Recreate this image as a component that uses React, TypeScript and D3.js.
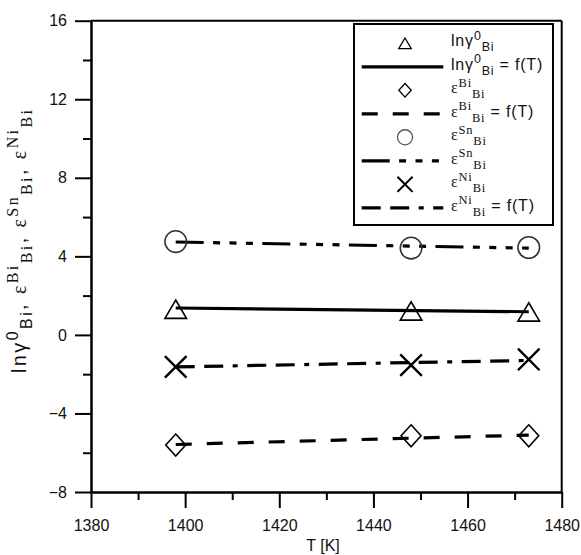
import React, { useEffect, useRef } from 'react';
import * as d3 from 'd3';

// temperatures of the measured points
const temps = [1398, 1448, 1473];
const fitTemps = [1398, 1473];

const lnGammaPts = [1.31, 1.22, 1.17];
const lnGammaFit = [1.37, 1.18];
const epsBiPts = [-5.61, -5.14, -5.14];
const epsBiFit = [-5.58, -5.1];
const epsSnPts = [4.75, 4.42, 4.45];
const epsSnFit = [4.73, 4.42];
const epsNiPts = [-1.63, -1.54, -1.25];
const epsNiFit = [-1.63, -1.3];

const xTicks = [1380, 1400, 1420, 1440, 1460, 1480];
const xMinor = [1390, 1410, 1430, 1450, 1470];
const yTicks = [-8, -4, 0, 4, 8, 12, 16];
const yMinor = [-6, -2, 2, 6, 10, 14];

const SANS = "'Liberation Sans', Arial, sans-serif";
const SERIF = "'Liberation Serif', 'Times New Roman', serif";

const W = 581, H = 555;
const margin = { top: 20.7, right: 19.3, bottom: 63, left: 91 };

type Seg = { t: string; serif?: boolean; pos?: 'sup' | 'sub' };

// rich text with sub/superscripts
function Rich({ segs, size, small }: { segs: Seg[]; size: number; small: number }) {
  let cur = 0;
  return (
    <>
      {segs.map((s, i) => {
        const target = s.pos === 'sup' ? -0.4 * size : s.pos === 'sub' ? 0.3 * size : 0;
        const dy = target - cur;
        cur = target;
        return (
          <tspan key={i} dy={dy} fontFamily={s.serif ? SERIF : SANS} fontSize={s.pos ? small : size}>
            {s.t}
          </tspan>
        );
      })}
    </>
  );
}

const lnG: Seg[] = [{ t: 'ln' }, { t: 'γ' }, { t: '0', pos: 'sup' }, { t: 'Bi', pos: 'sub' }];
const eps = (sup: string): Seg[] => [
  { t: 'ε', serif: true },
  { t: sup, serif: true, pos: 'sup' },
  { t: 'Bi', serif: true, pos: 'sub' },
];
const fT: Seg[] = [{ t: ' = f(T)' }];

type Marker = 'tri' | 'dia' | 'circ' | 'x';

function markerPath(m: Marker, k = 1) {
  if (m === 'tri') return `M0,${-9.2 * k}L${10.8 * k},${9.2 * k}L${-10.8 * k},${9.2 * k}Z`;
  if (m === 'dia') return `M0,${-11 * k}L${10 * k},0L0,${11 * k}L${-10 * k},0Z`;
  if (m === 'x') { const r = 10.8 * k; return `M${-r},${-r}L${r},${r}M${r},${-r}L${-r},${r}`; }
  return d3.arc()({ innerRadius: 0, outerRadius: 10.8 * k, startAngle: 0, endAngle: 2 * Math.PI }) as string;
}

const dashBi = '16,15';
const dashSn = '28,9.4,7,9.4,7,9.4,7,9.4';
const dashNi = '19,9.5,19,9.5,5,9.5';

const series = [
  { pts: lnGammaPts, fit: lnGammaFit, marker: 'tri' as Marker, dash: null as string | null, color: '#000' },
  { pts: epsBiPts, fit: epsBiFit, marker: 'dia' as Marker, dash: dashBi, color: '#000' },
  { pts: epsSnPts, fit: epsSnFit, marker: 'circ' as Marker, dash: dashSn, color: '#2a3a3a' },
  { pts: epsNiPts, fit: epsNiFit, marker: 'x' as Marker, dash: dashNi, color: '#000' },
];

const legendRows: { marker?: Marker; dash?: string | null; segs: Seg[] }[] = [
  { marker: 'tri', segs: lnG },
  { dash: null, segs: [...lnG, ...fT] },
  { marker: 'dia', segs: eps('Bi') },
  { dash: dashBi, segs: [...eps('Bi'), ...fT] },
  { marker: 'circ', segs: eps('Sn') },
  { dash: dashSn, segs: eps('Sn') },
  { marker: 'x', segs: eps('Ni') },
  { dash: dashNi, segs: [...eps('Ni'), ...fT] },
];

export default function App() {
  const xRef = useRef<SVGGElement>(null);
  const yRef = useRef<SVGGElement>(null);

  const innerW = W - margin.left - margin.right;
  const innerH = H - margin.top - margin.bottom;
  const x = d3.scaleLinear().domain([1380, 1480]).range([margin.left, margin.left + innerW]);
  const y = d3.scaleLinear().domain([-8, 16]).range([margin.top + innerH, margin.top]);

  useEffect(() => {
    const gx = d3.select(xRef.current);
    gx.selectAll('*').remove();
    gx.append('g').call(d3.axisBottom(x).tickValues(xMinor).tickSize(8).tickSizeOuter(0).tickFormat(() => ''));
    gx.append('g').call(d3.axisBottom(x).tickValues(xTicks).tickSize(16).tickSizeOuter(0).tickPadding(12).tickFormat(d3.format('d')));

    const gy = d3.select(yRef.current);
    gy.selectAll('*').remove();
    gy.append('g').call(d3.axisLeft(y).tickValues(yMinor).tickSize(8).tickSizeOuter(0).tickFormat(() => ''));
    gy.append('g').call(d3.axisLeft(y).tickValues(yTicks).tickSize(16).tickSizeOuter(0).tickPadding(8).tickFormat(d3.format('d')));

    [gx, gy].forEach((g) => {
      g.selectAll('path, line').attr('stroke', '#000').attr('stroke-width', 2);
      g.selectAll('text').attr('font-family', SANS).attr('font-size', 16).attr('fill', '#111');
    });
  }, []);

  const line = d3.line<number>().x((_, i) => x(fitTemps[i])).y((d) => y(d));

  const lg = { x0: 354, y0: 24, x1: 553, y1: 225, row0: 43.3, step: 23.5, lx0: 361.7, lx1: 443.3, sx: 405, tx: 451 };

  return (
    <div style={{ position: 'absolute', left: 0, top: 0 }}>
      <svg width={W} height={H} style={{ display: 'block', background: '#fff' }}>
        {/* frame */}
        <line x1={margin.left} x2={margin.left + innerW} y1={margin.top} y2={margin.top} stroke="#000" strokeWidth={2} />
        <line x1={margin.left + innerW} x2={margin.left + innerW} y1={margin.top} y2={margin.top + innerH} stroke="#000" strokeWidth={2} />
        <g ref={xRef} transform={`translate(0,${margin.top + innerH})`} />
        <g ref={yRef} transform={`translate(${margin.left},0)`} />

        {/* fitted lines */}
        {series.map((s, i) => (
          <path key={'l' + i} d={line(s.fit) as string} fill="none" stroke="#000" strokeWidth={3.2}
            strokeDasharray={s.dash ?? undefined} />
        ))}
        {/* points */}
        {series.map((s, i) =>
          s.pts.map((v, j) => (
            <path key={`p${i}-${j}`} d={markerPath(s.marker)} transform={`translate(${x(temps[j])},${y(v)})`}
              fill="none" stroke={s.color} strokeWidth={s.marker === 'x' ? 2.4 : 1.6} />
          ))
        )}

        {/* legend */}
        <rect x={lg.x0} y={lg.y0} width={lg.x1 - lg.x0} height={lg.y1 - lg.y0} fill="#fff" stroke="#000" strokeWidth={2} />
        {legendRows.map((r, i) => {
          const cy = lg.row0 + i * lg.step;
          return (
            <g key={'lg' + i}>
              {r.marker ? (
                <path d={markerPath(r.marker, r.marker === 'tri' ? 0.58 : r.marker === 'dia' ? 0.62 : 0.7)}
                  transform={`translate(${lg.sx},${cy})`}
                  fill="none" stroke={r.marker === 'circ' ? '#555' : '#000'} strokeWidth={r.marker === 'x' ? 2 : 1.3} />
              ) : (
                <line x1={lg.lx0} x2={lg.lx1} y1={cy} y2={cy} stroke="#000" strokeWidth={3.2}
                  strokeDasharray={r.dash ?? undefined} />
              )}
              <text x={lg.tx} y={cy + 3} fill="#111" letterSpacing={0.8}>
                <Rich segs={r.segs} size={16} small={12.5} />
              </text>
            </g>
          );
        })}

        {/* axis titles */}
        <text x={323} y={551} textAnchor="middle" fontFamily={SANS} fontSize={16} fill="#111">T [K]</text>
        <text transform="translate(26,241.5) rotate(-90)" textAnchor="middle" fill="#111"
          textLength={263} lengthAdjust="spacing">
          <Rich size={20} small={16} segs={[
            ...lnG, { t: ',  ' },
            ...eps('Bi'), { t: ',  ' },
            ...eps('Sn'), { t: ',  ' },
            ...eps('Ni'),
          ]} />
        </text>
      </svg>
    </div>
  );
}
